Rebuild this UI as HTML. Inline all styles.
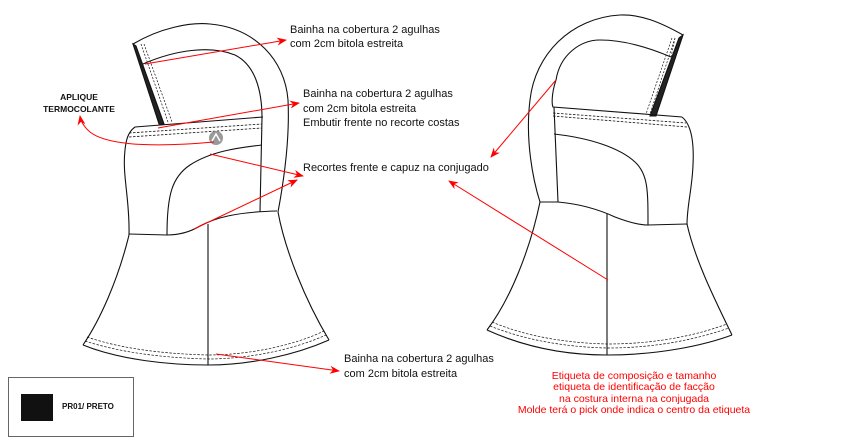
<!DOCTYPE html>
<html><head><meta charset="utf-8"><style>
body{margin:0;background:#fff;}
svg{display:block;}
text{font-family:"Liberation Sans",sans-serif;}
</style></head><body>
<svg width="843" height="442" viewBox="0 0 843 442" xmlns="http://www.w3.org/2000/svg">
<defs>
<marker id="ah" markerWidth="10" markerHeight="8" refX="9" refY="4" orient="auto" markerUnits="userSpaceOnUse">
<path d="M0,0 L10,4 L0,8 L3,4 Z" fill="#f00"/></marker>
</defs>
<g fill="none" stroke="#111" stroke-width="1.1">
<path d="M133,44 C160,28 190,22 210,24 C255,28 285,60 288,100 C290,140 284,180 278,212"/>
<path d="M143,64 C175,50 210,45 235,55 C255,65 262,90 262,118 L260,212"/>
<path d="M133,44 L163,124" stroke-width="1"/>
<path d="M133,44 L159,124 L164,124 L136,46 Z" fill="#222"/>
<path d="M141,44 L168,122 M144,44 L172,122" stroke-dasharray="2,1.5" stroke-width="0.7"/>
<path d="M135,127 L263,117"/>
<path d="M129,133 L262,124 M129,137 L262,128" stroke-dasharray="2.5,1.5" stroke-width="0.8"/>
<path d="M135,127 C128,132 126,140 125,150 C122,175 130,200 129,235"/>
<path d="M262,145 C235,148 210,152 190,165 C172,177 167,195 167,235"/>
<path d="M129,234 L167,235 C180,235 190,232 200,226 C215,218 235,212 277,211"/>
<path d="M208,224 L208,365"/>
<path d="M129,235 C118,280 100,320 83,345"/>
<path d="M278,212 C285,250 305,300 329,340"/>
<path d="M83,345 C120,360 170,365 208,365 C250,365 295,355 329,340"/>
<path d="M87,337 C125,350 170,354 208,355 C250,355 295,345 324,331 M85,341 C125,354 170,358 208,359 C250,359 295,349 326,335" stroke-dasharray="2.5,1.5" stroke-width="0.7"/>
<path d="M683,35 C660,22 640,14 620,15 C570,18 535,55 530,100 C525,140 533,180 540,202"/>
<path d="M556,80 C560,55 580,40 600,40 C625,40 650,48 671,57"/>
<path d="M683,35 L656,116 L650,116 L679,38 Z" fill="#222"/>
<path d="M675,38 L650,114 M672,38 L646,114 M675,38 L671,57" stroke-dasharray="2,1.5" stroke-width="0.7"/>
<path d="M556,80 C551,95 552,105 553,107 L682,117"/>
<path d="M553,113 L686,123 M553,116 L687,127" stroke-dasharray="2.5,1.5" stroke-width="0.8"/>
<path d="M682,117 C692,125 694,145 693,165 C692,190 687,205 687,225"/>
<path d="M554,107 L558,202"/>
<path d="M554,134 C590,138 620,148 635,162 C648,174 648,190 648,225"/>
<path d="M540,202 L558,202 C580,204 600,210 615,217 C628,222 640,225 648,225 L687,224"/>
<path d="M607,214 L607,355"/>
<path d="M540,202 C530,250 510,300 487,330"/>
<path d="M687,224 C695,260 715,300 732,335"/>
<path d="M487,330 C520,345 560,355 607,355 C660,355 705,345 732,335"/>
<path d="M492,322 C525,336 565,343 607,344 C660,344 700,334 727,324 M490,326 C525,340 565,347 607,348 C660,348 700,338 729,328" stroke-dasharray="2.5,1.5" stroke-width="0.7"/>
</g>
<circle cx="216" cy="138" r="7" fill="#999"/>
<path d="M212,141 L216,134 L220,141" stroke="#fff" stroke-width="1.5" fill="none"/>
<g stroke="#f00" stroke-width="1" fill="none" marker-end="url(#ah)">
<path d="M145,64 L286,40"/>
<path d="M158,128 L299,103"/>
<path d="M210,154 L303,176"/>
<path d="M194,229 L297,180"/>
<path d="M214,142 C170,146 110,148 90,132 C84,127 81,122 80,116"/>
<path d="M216,354 L339,371"/>
<path d="M556,80 L491,157"/>
<path d="M608,280 L449,181"/>
</g>
<g font-size="11" fill="#111">
<text x="290" y="33">Bainha na cobertura 2 agulhas</text>
<text x="290" y="47">com 2cm bitola estreita</text>
<text x="303" y="97">Bainha na cobertura 2 agulhas</text>
<text x="303" y="112">com 2cm bitola estreita</text>
<text x="303" y="126">Embutir frente no recorte costas</text>
<text x="303" y="171">Recortes frente e capuz na conjugado</text>
<text x="344" y="362">Bainha na cobertura 2 agulhas</text>
<text x="344" y="377">com 2cm bitola estreita</text>
</g>
<g font-size="8.5" fill="#111" text-anchor="middle" font-weight="bold">
<text x="79" y="100">APLIQUE</text>
<text x="79" y="112">TERMOCOLANTE</text>
</g>
<g font-size="10.5" fill="#f00" text-anchor="middle">
<text x="634" y="379">Etiqueta de composição e tamanho</text>
<text x="634" y="390">etiqueta de identificação de facção</text>
<text x="634" y="402">na costura interna na conjugada</text>
<text x="634" y="413">Molde terá o pick onde indica o centro da etiqueta</text>
</g>
<rect x="8.5" y="377.5" width="125" height="59" fill="none" stroke="#666" stroke-width="1"/>
<rect x="21" y="394" width="32" height="27" fill="#111"/>
<text x="62" y="409" font-size="8" font-weight="bold" fill="#111">PR01/ PRETO</text>
</svg>
</body></html>
